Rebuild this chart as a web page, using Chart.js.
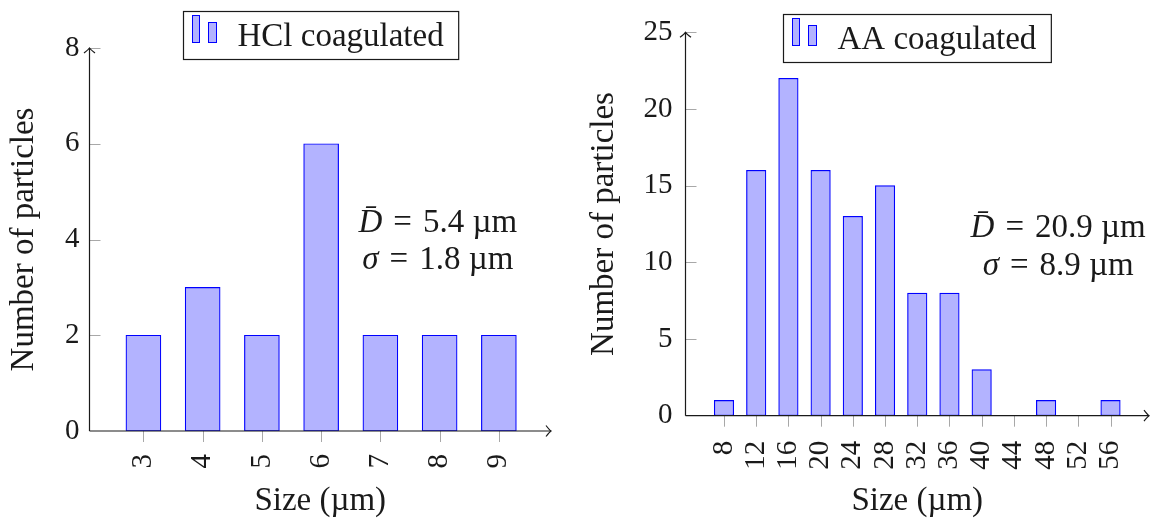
<!DOCTYPE html>
<html lang="en">
<head>
<meta charset="UTF-8">
<title>Particle size distributions</title>
<script src="https://cdn.jsdelivr.net/npm/chart.js"></script>
<style>
  html, body { margin: 0; padding: 0; background: #fff; }
  body { width: 1153px; height: 519px; position: relative; overflow: hidden; }
  canvas { position: absolute; top: 0; }
  #hclChart { left: 0; }
  #aaChart { left: 575px; }
</style>
</head>
<body>
<canvas id="hclChart" width="575" height="519"></canvas>
<canvas id="aaChart" width="578" height="519"></canvas>
<script>
// data
const hclSizes = [3, 4, 5, 6, 7, 8, 9];
const hclCounts = [2, 3, 2, 6, 2, 2, 2];
const hclMean = '5.4';
const hclSigma = '1.8';

const aaSizes = [8, 12, 16, 20, 24, 28, 32, 36, 40, 44, 48, 52, 56];
const aaCounts = [1, 16, 22, 16, 13, 15, 8, 8, 3, 0, 1, 0, 1];
const aaMean = '20.9';
const aaSigma = '8.9';

const serif = '"Liberation Serif", "DejaVu Serif", serif';
const ink = '#1a1a1a';
const barFill = 'rgb(179,179,255)';
const barEdge = '#0000ff';

// axis lines with arrow heads + small grey ticks
const axisPlugin = {
  id: 'axisArrows',
  afterDatasetsDraw(chart) {
    const {ctx, chartArea: a, scales: {x, y}} = chart;
    const seg = (x1, y1, x2, y2) => { ctx.beginPath(); ctx.moveTo(x1, y1); ctx.lineTo(x2, y2); ctx.stroke(); };
    ctx.save();
    ctx.strokeStyle = '#a8a8a8';
    ctx.lineWidth = 1;
    x.ticks.forEach(t => {
      const px = Math.round(x.getPixelForValue(t.value)) + 0.5;
      seg(px, a.bottom, px, a.bottom + 11);
    });
    y.ticks.forEach(t => {
      if (t.value === 0) return;
      const py = Math.round(y.getPixelForValue(t.value)) + 0.5;
      seg(a.left, py, a.left + 11, py);
    });
    ctx.strokeStyle = ink;
    ctx.lineWidth = 1.2;
    seg(a.left, a.bottom, a.right, a.bottom);
    seg(a.left, a.bottom, a.left, a.top);
    // arrow heads
    ctx.beginPath();
    ctx.moveTo(a.right - 5, a.bottom - 5.5);
    ctx.quadraticCurveTo(a.right - 1.5, a.bottom - 1, a.right, a.bottom);
    ctx.quadraticCurveTo(a.right - 1.5, a.bottom + 1, a.right - 5, a.bottom + 5.5);
    ctx.stroke();
    ctx.beginPath();
    ctx.moveTo(a.left - 5.5, a.top + 5);
    ctx.quadraticCurveTo(a.left - 1, a.top + 1.5, a.left, a.top);
    ctx.quadraticCurveTo(a.left + 1, a.top + 1.5, a.left + 5.5, a.top + 5);
    ctx.stroke();
    ctx.restore();
  }
};

// boxed legend with the two-bar ybar icon
const legendPlugin = {
  id: 'boxLegend',
  afterDraw(chart, args, o) {
    const {ctx, chartArea: a} = chart;
    const label = chart.data.datasets[0].label;
    ctx.save();
    ctx.font = '33px ' + serif;
    const w = ctx.measureText(label).width + 69;
    const h = 48;
    const left = Math.round((a.left + a.right) / 2 - w / 2) + 0.5;
    const top = o.top + 0.5;
    ctx.fillStyle = '#fff';
    ctx.fillRect(left, top, w, h);
    ctx.strokeStyle = ink;
    ctx.lineWidth = 1.2;
    ctx.strokeRect(left, top, w, h);
    ctx.fillStyle = barFill;
    ctx.strokeStyle = barEdge;
    ctx.lineWidth = 1;
    ctx.fillRect(left + 9, top + 4, 7, 27);
    ctx.strokeRect(left + 9, top + 4, 7, 27);
    ctx.fillRect(left + 25, top + 11, 8, 20);
    ctx.strokeRect(left + 25, top + 11, 8, 20);
    ctx.fillStyle = ink;
    ctx.textBaseline = 'alphabetic';
    ctx.fillText(label, left + 54, top + 34);
    ctx.restore();
  }
};

// mean / standard deviation note
const statsPlugin = {
  id: 'stats',
  afterDraw(chart, args, o) {
    const {ctx, scales: {x, y}} = chart;
    const cx = x.getPixelForValue(o.at[0]);
    const by = y.getPixelForValue(o.at[1]);
    const fontOf = it => (it ? 'italic ' : '') + '33px ' + serif;
    const gap = '\u2004';
    const lines = [
      [['D\u0304', true], [gap + '=' + gap + o.mean + ' \u00b5m', false]],
      [['\u03c3', true], [gap + '=' + gap + o.sigma + ' \u00b5m', false]]
    ];
    ctx.save();
    ctx.fillStyle = ink;
    ctx.textBaseline = 'alphabetic';
    lines.forEach((parts, i) => {
      let w = 0;
      parts.forEach(p => { ctx.font = fontOf(p[1]); w += ctx.measureText(p[0]).width; });
      let px = cx - w / 2;
      parts.forEach(p => {
        ctx.font = fontOf(p[1]);
        ctx.fillText(p[0], px, by + i * 37.5);
        px += ctx.measureText(p[0]).width;
      });
    });
    ctx.restore();
  }
};

function buildChart(id, sizes, counts, label, o) {
  return new Chart(document.getElementById(id), {
    type: 'bar',
    data: {
      datasets: [{
        label: label,
        data: sizes.map((s, i) => ({x: s, y: counts[i]})),
        backgroundColor: barFill,
        borderColor: barEdge,
        borderWidth: 1.2,
        borderSkipped: false,
        barThickness: o.barWidth
      }]
    },
    options: {
      responsive: false,
      animation: false,
      layout: {padding: {top: o.top, right: o.right, left: 0, bottom: 0}},
      plugins: {
        legend: {display: false},
        tooltip: {enabled: false},
        boxLegend: {top: o.legendTop},
        stats: {at: o.statsAt, mean: o.mean, sigma: o.sigma}
      },
      scales: {
        x: {
          type: 'linear',
          min: o.xMin,
          max: o.xMax,
          offset: false,
          grid: {display: false, drawTicks: false},
          border: {display: false},
          afterBuildTicks: s => { s.ticks = sizes.map(v => ({value: v})); },
          afterFit: s => { s.height = o.xAxisHeight; s.paddingLeft = 0; s.paddingRight = 0; },
          ticks: {
            minRotation: 90, maxRotation: 90, autoSkip: false,
            padding: o.xPad, color: ink, font: {family: serif, size: 29}
          },
          title: {
            display: true, text: 'Size (\u00b5m)', color: ink,
            font: {family: serif, size: 33, lineHeight: 1}, padding: {top: 0, bottom: 1}
          }
        },
        y: {
          min: 0,
          max: o.yMax,
          grid: {display: false, drawTicks: false},
          border: {display: false},
          afterFit: s => { s.width = o.yAxisWidth; s.paddingTop = 0; s.paddingBottom = 0; },
          ticks: {stepSize: o.yStep, padding: o.yPad, color: ink, font: {family: serif, size: 29}},
          title: {
            display: true, text: 'Number of particles', color: ink,
            font: {family: serif, size: 33, lineHeight: 1}, padding: {top: o.yTitlePad, bottom: 0}
          }
        }
      }
    },
    plugins: [axisPlugin, legendPlugin, statsPlugin]
  });
}

buildChart('hclChart', hclSizes, hclCounts, 'HCl coagulated', {
  barWidth: 35, top: 48, right: 24, legendTop: 11,
  xMin: 2.09, xMax: 9.88, xAxisHeight: 88, xPad: 23,
  yMax: 8, yStep: 2, yAxisWidth: 89.5, yPad: 10, yTitlePad: 8,
  statsAt: [7.97, 4.16], mean: hclMean, sigma: hclSigma
});

buildChart('aaChart', aaSizes, aaCounts, 'AA coagulated', {
  barWidth: 19.5, top: 32.3, right: 4, legendTop: 14,
  xMin: 3.22, xMax: 60.78, xAxisHeight: 103.3, xPad: 25,
  yMax: 25, yStep: 5, yAxisWidth: 110.5, yPad: 13, yTitlePad: 13,
  statsAt: [49.5, 11.65], mean: aaMean, sigma: aaSigma
});
</script>
</body>
</html>
